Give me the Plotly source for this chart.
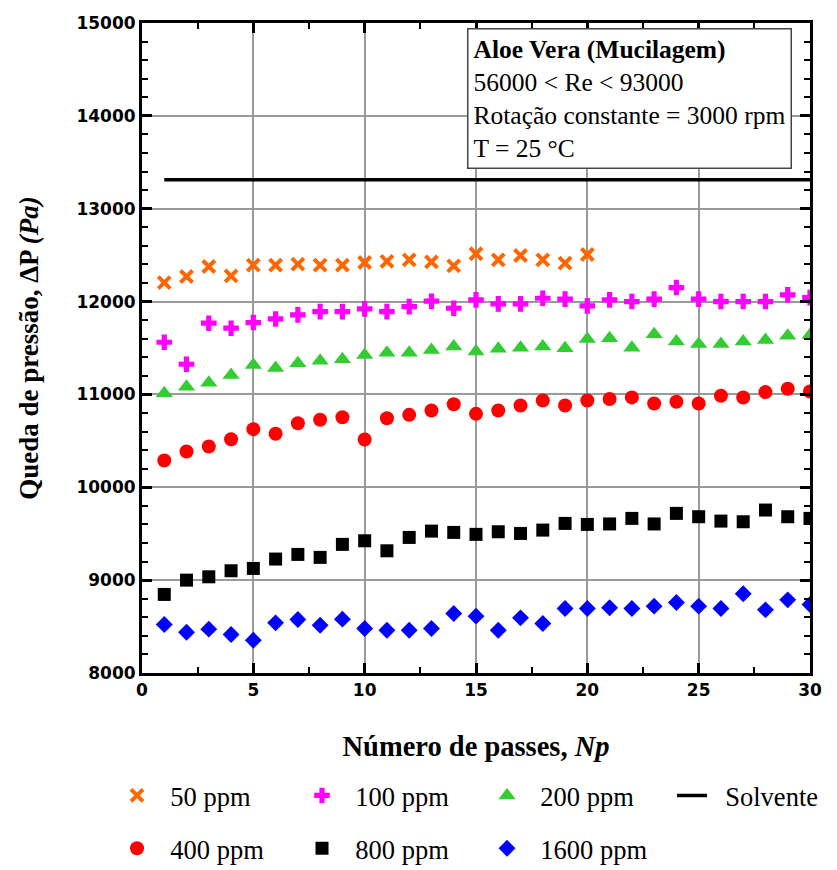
import plotly.graph_objects as go

np_passes = list(range(1, 31))

ppm50 = [12205, 12270, 12378, 12277, 12393, 12393, 12403, 12393, 12393, 12421,
         12432, 12450, 12428, 12385, 12515, 12450, 12496, 12450, 12414, 12507]
ppm100 = [11562, 11325, 11767, 11713, 11774, 11813, 11857, 11892, 11892, 11921,
          11892, 11946, 12004, 11928, 12018, 11975, 11975, 12036, 12026, 11954,
          12018, 12000, 12026, 12151, 12026, 12000, 12000, 12000, 12072, 12043]
ppm200 = [11012, 11083, 11126, 11209, 11317, 11285, 11335, 11364, 11379, 11425,
          11450, 11450, 11479, 11515, 11461, 11493, 11504, 11515, 11497, 11598,
          11605, 11504, 11648, 11569, 11544, 11544, 11569, 11587, 11633, 11641]
ppm400 = [10288, 10385, 10439, 10518, 10626, 10576, 10690, 10727, 10755, 10515,
          10744, 10780, 10827, 10895, 10791, 10827, 10881, 10935, 10881, 10935,
          10950, 10968, 10903, 10921, 10903, 10985, 10967, 11025, 11061, 11032]
ppm800 = [8846, 9000, 9036, 9101, 9126, 9227, 9277, 9245, 9385, 9424,
          9316, 9460, 9528, 9514, 9493, 9521, 9503, 9539, 9611, 9600,
          9605, 9665, 9605, 9719, 9683, 9636, 9629, 9755, 9683, 9665]
ppm1600 = [8522, 8439, 8472, 8414, 8353, 8540, 8576, 8515, 8580, 8479,
           8461, 8461, 8479, 8640, 8612, 8461, 8594, 8533, 8695, 8695,
           8702, 8695, 8720, 8760, 8720, 8695, 8853, 8680, 8788, 8738]
solvente_x = [1, 30]
solvente_y = [13313, 13313]

info_lines = ["<b>Aloe Vera (Mucilagem)</b>", "56000 &lt; Re &lt; 93000",
              "Rotação constante = 3000 rpm", "T = 25 °C"]

serif = "Liberation Serif, Times New Roman, serif"
tickfont = dict(family="DejaVu Sans", size=17, color="black", weight="bold")
pad = "\u00a0\u00a0"

fig = go.Figure()

def add_pts(y, name, symbol, color, size, legend):
    fig.add_trace(go.Scatter(
        x=np_passes[:len(y)], y=y, mode="markers", name=pad + name, legend=legend,
        marker=dict(symbol=symbol, color=color, size=size, line=dict(width=0)),
    ))

add_pts(ppm50, "50 ppm", "x-thin-open", "#FF6600", 12, "legend")
fig.data[-1].marker.line = dict(width=4, color="#FF6600")
add_pts(ppm100, "100 ppm", "cross", "#FF00FF", 13, "legend")
add_pts(ppm200, "200 ppm", "triangle-up", "#33CC33", 15, "legend")
fig.add_trace(go.Scatter(x=solvente_x, y=solvente_y, mode="lines", name=pad + "Solvente",
                         legend="legend", line=dict(color="black", width=3.5)))
add_pts(ppm400, "400 ppm", "circle", "#FF0000", 14, "legend2")
add_pts(ppm800, "800 ppm", "square", "#000000", 13, "legend2")
add_pts(ppm1600, "1600 ppm", "diamond", "#0000FF", 13, "legend2")

axis_common = dict(
    showline=True, linecolor="black", linewidth=3, mirror="ticks",
    ticks="inside", ticklen=10, tickwidth=2.5, tickcolor="black",
    showgrid=True, gridcolor="#9a9a9a", gridwidth=1.5, zeroline=False,
    tickfont=tickfont, tickformat="d",
)

fig.update_xaxes(range=[0, 30], dtick=5, tick0=0,
                 minor=dict(dtick=2.5, ticks="inside", ticklen=6, tickwidth=2, tickcolor="black", showgrid=False),
                 title=dict(text="<b>Número de passes, <i>Np</i></b>",
                            font=dict(family=serif, size=28.5, color="black"), standoff=37),
                 **axis_common)
fig.update_yaxes(range=[8000, 15000], dtick=1000, tick0=8000,
                 minor=dict(dtick=200, ticks="inside", ticklen=6, tickwidth=2, tickcolor="black", showgrid=False),
                 title=dict(text="<b>Queda de pressão, ΔP <i>(Pa)</i></b>",
                            font=dict(family=serif, size=27, color="black"), standoff=30),
                 **axis_common)

fig.add_annotation(
    xref="paper", yref="paper", x=0.4865, y=0.9917, xanchor="left", yanchor="top",
    text="<br>".join(info_lines), align="left", showarrow=False,
    font=dict(family=serif, size=25.5, color="black"),
    bordercolor="#444", borderwidth=1.5, borderpad=5, bgcolor="white",
)

legend_common = dict(orientation="h", xanchor="left",
                     font=dict(family=serif, size=26.5, color="black"),
                     entrywidth=140, entrywidthmode="pixels", bgcolor="rgba(0,0,0,0)",
                     itemclick=False)
fig.update_layout(
    width=837, height=870,
    margin=dict(l=142, r=27, t=23, b=197, autoexpand=False),
    plot_bgcolor="white", paper_bgcolor="white",
    legend=dict(x=-0.0374, y=-0.1888, yanchor="middle", **legend_common),
    legend2=dict(x=-0.0374, y=-0.307, yanchor="bottom", **legend_common),
)

fig.write_html("out.html")
